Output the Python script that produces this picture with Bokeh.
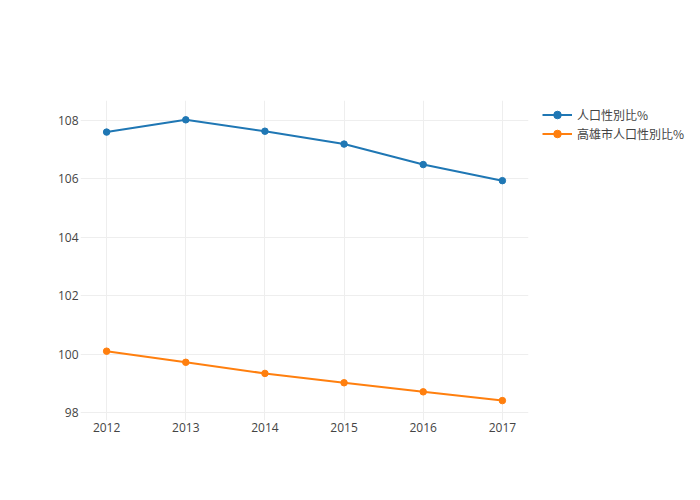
from bokeh.plotting import figure
from bokeh.models import Legend, LegendItem, FixedTicker, Range1d
from bokeh.embed import file_html
from bokeh.resources import INLINE

years = [2012, 2013, 2014, 2015, 2016, 2017]
national = [107.60, 108.02, 107.63, 107.19, 106.49, 105.94]
kaohsiung = [100.11, 99.73, 99.35, 99.03, 98.72, 98.42]
name_national = "人口性別比%"
name_kaohsiung = "高雄市人口性別比%"
y_ticks = [98, 100, 102, 104, 106, 108]

p = figure(frame_width=448, frame_height=320, output_backend="svg", toolbar_location=None,
           x_range=Range1d(2011.67, 2017.33), y_range=Range1d(97.74, 108.68),
           min_border_left=80, min_border_right=10, min_border_top=100, min_border_bottom=72)
p.outline_line_color = None
p.background_fill_color = "white"
p.border_fill_color = "white"

l1 = p.line(years, national, line_color="#1f77b4", line_width=2)
s1 = p.scatter(years, national, size=6.5, fill_color="#1f77b4", line_color="#1f77b4")
l2 = p.line(years, kaohsiung, line_color="#ff7f0e", line_width=2)
s2 = p.scatter(years, kaohsiung, size=6.5, fill_color="#ff7f0e", line_color="#ff7f0e")

for ax in (p.xaxis, p.yaxis):
    ax.axis_line_color = None
    ax.major_tick_line_color = None
    ax.minor_tick_line_color = None
    ax.major_tick_out = 0
    ax.major_tick_in = 0
    ax.minor_tick_out = 0
    ax.minor_tick_in = 0
    ax.major_label_text_font = "Open Sans"
    ax.major_label_text_font_size = "12px"
    ax.major_label_text_color = "#444444"
p.xaxis.ticker = FixedTicker(ticks=years)
p.yaxis.ticker = FixedTicker(ticks=y_ticks)
p.xaxis.major_label_standoff = 2
p.yaxis.major_label_standoff = 2
p.grid.grid_line_color = "#eeeeee"
p.grid.grid_line_width = 1

legend = Legend(items=[LegendItem(label=name_national, renderers=[l1, s1]),
                       LegendItem(label=name_kaohsiung, renderers=[l2, s2])],
                location=(14, 277), padding=4, spacing=0, margin=0,
                glyph_width=30, glyph_height=19, label_height=19, label_standoff=5,
                label_text_font="Noto Sans CJK TC", label_text_font_size="12px",
                label_text_color="#444444", border_line_color=None,
                background_fill_alpha=0)
p.add_layout(legend, "right")

open("out.html", "w").write(file_html(p, INLINE))
